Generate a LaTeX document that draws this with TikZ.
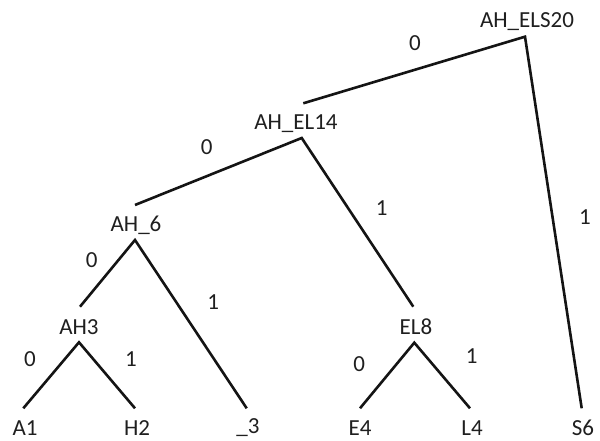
\documentclass[tikz,border=0pt]{standalone}
\usepackage{fontspec}
\setmainfont{Carlito}
\begin{document}
\begin{tikzpicture}[x=1pt,y=1pt,
  lbl/.style={font=\fontsize{23}{26}\selectfont, text=black!88, inner sep=0pt},
  edgelbl/.style={font=\fontsize{23}{26}\selectfont, text=black!88, inner sep=0pt},
  branch/.style={line width=2.6pt, line join=miter, draw=black!92}]
\useasboundingbox (0,0) rectangle (600,441);
% tree nodes
\node[lbl] (n20) at (527,419.3) {AH\_ELS20};
\node[lbl] (n14) at (296,317) {AH\_EL14};
\node[lbl] (n6) at (136,216) {AH\_6};
\node[lbl] (n3) at (79,114.3) {AH3};
\node[lbl] (n8) at (416,114.3) {EL8};
\node[lbl] (a1) at (25,13) {A1};
\node[lbl] (h2) at (137,13) {H2};
\node[lbl] (u3) at (248,13) {\_3};
\node[lbl] (e4) at (360,13) {E4};
\node[lbl] (l4) at (472,13) {L4};
\node[lbl] (s6) at (583,13) {S6};
% connector points
\coordinate (v20) at ([shift={(-2,-15)}]n20.center);
\coordinate (v14) at ([shift={(5.7,-14)}]n14.center);
\coordinate (t14) at ([shift={(7.3,20.7)}]n14.center);
\coordinate (v6) at ([shift={(-1,-15)}]n6.center);
\coordinate (t6) at ([shift={(-1,20)}]n6.center);
\coordinate (v3) at ([shift={(0,-15.6)}]n3.center);
\coordinate (t3) at ([shift={(1,20)}]n3.center);
\coordinate (v8) at ([shift={(-1.7,-16)}]n8.center);
\coordinate (t8) at ([shift={(-2.7,20)}]n8.center);
\coordinate (ta1) at ([shift={(-1.7,19.7)}]a1.center);
\coordinate (th2) at ([shift={(-2,19.7)}]h2.center);
\coordinate (tu3) at ([shift={(-1.3,19.7)}]u3.center);
\coordinate (te4) at ([shift={(0,19.7)}]e4.center);
\coordinate (tl4) at ([shift={(-2,19.7)}]l4.center);
\coordinate (ts6) at ([shift={(-1.3,19.7)}]s6.center);
% branches
\draw[branch] (t14) -- (v20) -- (ts6);
\draw[branch] (t6) -- (v14) -- (t8);
\draw[branch] (t3) -- (v6) -- (tu3);
\draw[branch] (ta1) -- (v3) -- (th2);
\draw[branch] (te4) -- (v8) -- (tl4);
% edge labels
\node[edgelbl] (e0a) at (415,397.7) {0};
\node[edgelbl] (e1a) at (585,224.3) {1};
\node[edgelbl] (e0b) at (206.7,294.3) {0};
\node[edgelbl] (e1b) at (381.7,232.7) {1};
\node[edgelbl] (e0c) at (91.7,181) {0};
\node[edgelbl] (e1c) at (213.3,139.3) {1};
\node[edgelbl] (e0d) at (30,82) {0};
\node[edgelbl] (e1d) at (131,82) {1};
\node[edgelbl] (e0e) at (359.3,77) {0};
\node[edgelbl] (e1e) at (471.7,85.3) {1};
\end{tikzpicture}
\end{document}
